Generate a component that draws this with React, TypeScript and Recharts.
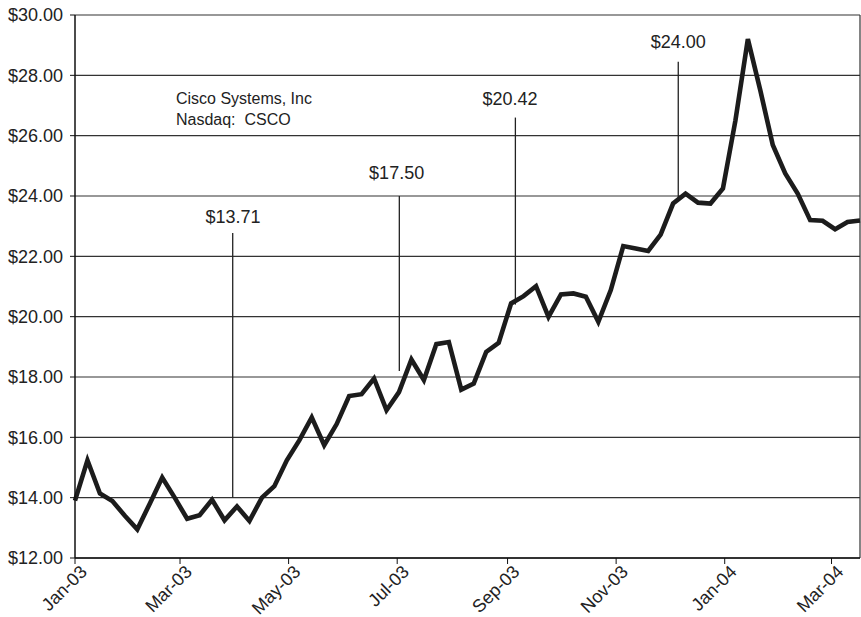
import {
  LineChart,
  Line,
  XAxis,
  YAxis,
  CartesianGrid,
  ReferenceLine,
  ReferenceDot,
} from "recharts";

// weekly closing prices, first week = Jan-03
const prices = [
  13.9, 15.24, 14.14, 13.89, 13.4, 12.95, 13.8, 14.67, 14.0, 13.3,
  13.42, 13.93, 13.25, 13.71, 13.23, 14.0, 14.38, 15.24, 15.9, 16.66,
  15.74, 16.44, 17.37, 17.43, 17.95, 16.9, 17.5, 18.58, 17.9, 19.09,
  19.16, 17.58, 17.78, 18.83, 19.13, 20.44, 20.68, 21.01, 19.99, 20.74,
  20.77, 20.66, 19.83, 20.88, 22.34, 22.26, 22.18, 22.72, 23.75, 24.08,
  23.78, 23.75, 24.25, 26.5, 29.2, 27.5, 25.69, 24.75, 24.08, 23.2,
  23.18, 22.9, 23.14, 23.19,
];

// days since 1 Jan 2003 of the month ticks
const tickDays = [0, 59, 120, 181, 243, 304, 365, 425];
const tickLabels = ["Jan-03", "Mar-03", "May-03", "Jul-03", "Sep-03", "Nov-03", "Jan-04", "Mar-04"];
const yTicks = [12, 14, 16, 18, 20, 22, 24, 26, 28, 30];

const noteLabels = ["$13.71", "$17.50", "$20.42", "$24.00"];
const noteDays = [88.6, 182.2, 247.4, 338.9];
const noteTops = [22.77, 24.0, 26.6, 28.45];
const noteBottoms = [14.0, 18.2, 20.4, 23.92];
const noteLabelDays = [88.8, 180.7, 244.4, 338.9];
const noteLabelValues = [23.31, 24.77, 27.24, 29.11];

const titleLines = ["Cisco Systems, Inc", "Nasdaq:  CSCO"];

const FONT = "'Liberation Sans', Arial, Helvetica, sans-serif";

const data = prices.map((p, i) => ({ day: i * 7, price: p }));

const XTick = (props: any) => {
  const { x, y, payload } = props;
  const idx = tickDays.indexOf(payload.value);
  return (
    <g transform={`translate(${x + 13},${y + 7})`}>
      <text
        x={0}
        y={0}
        textAnchor="end"
        transform="rotate(-45)"
        fontSize={18}
        fill="#222"
        fontFamily={FONT}
      >
        {tickLabels[idx]}
      </text>
    </g>
  );
};

export default function App() {
  return (
    <div
      style={{
        position: "absolute",
        left: 0,
        top: 0,
        width: 861,
        height: 617,
        background: "#fff",
      }}
    >
      <LineChart
        width={861}
        height={617}
        data={data}
        margin={{ top: 15, right: 1, left: 0, bottom: 0 }}
      >
        <CartesianGrid vertical={false} stroke="#333" strokeWidth={1.2} />
        <XAxis
          dataKey="day"
          type="number"
          domain={[0, 441]}
          ticks={tickDays}
          interval={0}
          height={59}
          tickSize={6}
          tick={<XTick />}
          axisLine={{ stroke: "#111", strokeWidth: 1.5 }}
          tickLine={{ stroke: "#111" }}
        />
        <YAxis
          domain={[12, 30]}
          ticks={yTicks}
          width={75}
          tickSize={5}
          tickMargin={7}
          tickFormatter={(v: number) => `$${v.toFixed(2)}`}
          tick={{ fontSize: 18, fill: "#222", fontFamily: FONT }}
          axisLine={{ stroke: "#111", strokeWidth: 1.5 }}
          tickLine={{ stroke: "#111" }}
        />
        <ReferenceLine x={441} stroke="#333" strokeWidth={1.2} />
        {noteLabels.map((label, i) => (
          <ReferenceLine
            key={"l" + label}
            segment={[
              { x: noteDays[i], y: noteTops[i] },
              { x: noteDays[i], y: noteBottoms[i] },
            ]}
            stroke="#222"
            strokeWidth={1.3}
          />
        ))}
        {noteLabels.map((label, i) => (
          <ReferenceDot
            key={"t" + label}
            x={noteLabelDays[i]}
            y={noteLabelValues[i]}
            r={0}
            shape={(p: any) => (
              <text
                x={p.cx}
                y={p.cy}
                dy="0.36em"
                textAnchor="middle"
                fontSize={18}
                fill="#222"
                fontFamily={FONT}
              >
                {label}
              </text>
            )}
          />
        ))}
        <ReferenceDot
          x={56.7}
          y={27.24}
          r={0}
          shape={(p: any) => (
            <text
              x={p.cx}
              y={p.cy}
              fontSize={16}
              fill="#222"
              fontFamily={FONT}
              style={{ whiteSpace: "pre" }}
            >
              <tspan x={p.cx} dy="0.36em">{titleLines[0]}</tspan>
              <tspan x={p.cx} dy={21}>{titleLines[1]}</tspan>
            </text>
          )}
        />
        <Line
          type="linear"
          dataKey="price"
          stroke="#1c1c1c"
          strokeWidth={4.6}
          strokeLinejoin="miter"
          strokeMiterlimit={4}
          dot={false}
          activeDot={false}
          isAnimationActive={false}
        />
      </LineChart>
    </div>
  );
}
